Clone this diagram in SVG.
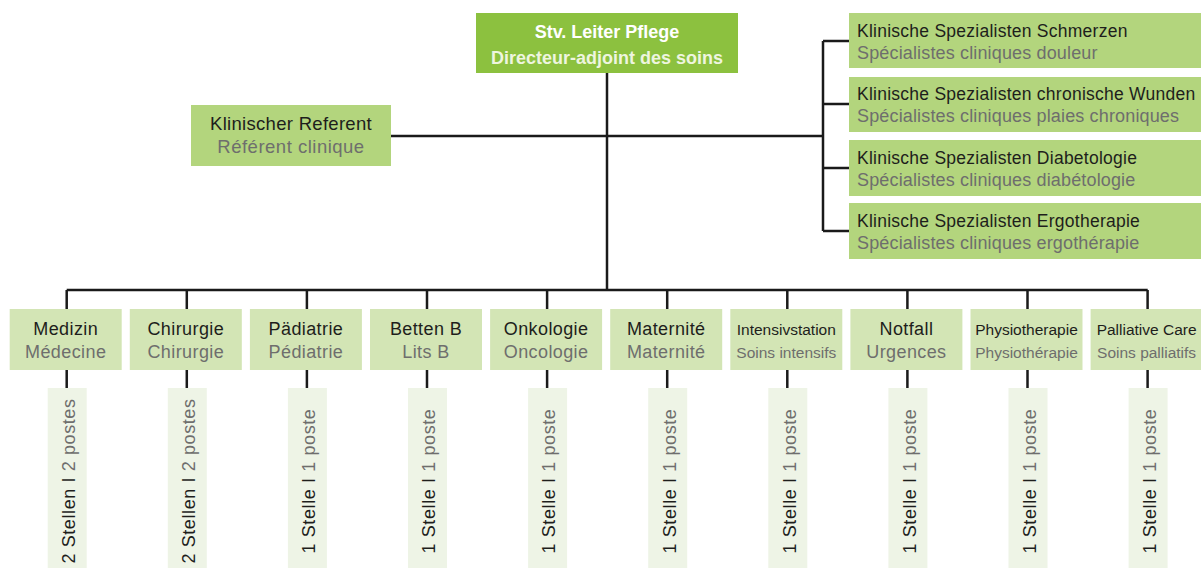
<svg xmlns="http://www.w3.org/2000/svg" width="1201" height="569" viewBox="0 0 1201 569">
<style>
text{font-family:"Liberation Sans",Arial,sans-serif}
.top{fill:#8cc13f}
.mid{fill:#b3d57d}
.dept{fill:#d3e5b5}
.pos{fill:#eef4e6}
.d{fill:#1e1e1c}
.g{fill:#6e6e6d}
.tw{fill:#ffffff;font-weight:bold;font-size:18px}
.tl{fill:#eef5df;font-weight:bold;font-size:18px}
.r1{font-size:17.5px;letter-spacing:0.25px}
.r2{font-size:18px;letter-spacing:0.15px}
.b{font-size:18px;letter-spacing:0.4px;text-anchor:middle}
.s{font-size:15.5px;text-anchor:middle}
.v{font-size:18px;letter-spacing:0.6px;text-anchor:middle}
.conn{stroke:#1a1a1a;stroke-width:2.5;fill:none}
</style>
<g id="connectors" class="conn">
<path d="M607 73V290"/>
<path d="M391 136H823"/>
<path d="M823 41V231M823 41H849M823 104H849M823 168H849M823 231H849"/>
<path d="M66.7 290H1147.7"/>
<path d="M66.7 290V309M186.8 290V309M306.9 290V309M427 290V309M547.1 290V309M667.2 290V309M787.3 290V309M907.4 290V309M1027.5 290V309M1147.6 290V309"/>
<path d="M66.7 370V388M186.8 370V388M306.9 370V388M427 370V388M547.1 370V388M667.2 370V388M787.3 370V388M907.4 370V388M1027.5 370V388M1147.6 370V388"/>
</g>
<g id="leiter">
<rect class="top" x="476" y="13" width="262" height="60"/>
<text class="tw" x="607" y="38" text-anchor="middle">Stv. Leiter Pflege</text>
<text class="tl" x="607" y="64" text-anchor="middle">Directeur-adjoint des soins</text>
</g>
<g id="referent">
<rect class="mid" x="191" y="105" width="200" height="61"/>
<text class="d" x="291" y="130" font-size="18.5" letter-spacing="0.3" text-anchor="middle">Klinischer Referent</text>
<text class="g" x="291" y="153" font-size="18.5" letter-spacing="0.5" text-anchor="middle">Référent clinique</text>
</g>
<g id="spec1">
<rect class="mid" x="849" y="13" width="352" height="55"/>
<text class="d r1" x="857" y="37">Klinische Spezialisten Schmerzen</text>
<text class="g r2" x="857" y="59">Spécialistes cliniques douleur</text>
</g>
<g id="spec2">
<rect class="mid" x="849" y="77" width="352" height="55"/>
<text class="d r1" x="857" y="100">Klinische Spezialisten chronische Wunden</text>
<text class="g r2" x="857" y="122">Spécialistes cliniques plaies chroniques</text>
</g>
<g id="spec3">
<rect class="mid" x="849" y="140" width="352" height="56"/>
<text class="d r1" x="857" y="164">Klinische Spezialisten Diabetologie</text>
<text class="g r2" x="857" y="186">Spécialistes cliniques diabétologie</text>
</g>
<g id="spec4">
<rect class="mid" x="849" y="203" width="352" height="56"/>
<text class="d r1" x="857" y="227">Klinische Spezialisten Ergotherapie</text>
<text class="g r2" x="857" y="249">Spécialistes cliniques ergothérapie</text>
</g>
<g id="medizin">
<rect class="dept" x="9.7" y="309" width="112" height="61"/>
<text class="d b" x="65.7" y="335">Medizin</text>
<text class="g b" x="65.7" y="358">Médecine</text>
</g>
<g id="chirurgie">
<rect class="dept" x="129.8" y="309" width="112" height="61"/>
<text class="d b" x="185.8" y="335">Chirurgie</text>
<text class="g b" x="185.8" y="358">Chirurgie</text>
</g>
<g id="paediatrie">
<rect class="dept" x="249.9" y="309" width="112" height="61"/>
<text class="d b" x="305.9" y="335">Pädiatrie</text>
<text class="g b" x="305.9" y="358">Pédiatrie</text>
</g>
<g id="betten">
<rect class="dept" x="370" y="309" width="112" height="61"/>
<text class="d b" x="426" y="335">Betten B</text>
<text class="g b" x="426" y="358">Lits B</text>
</g>
<g id="onkologie">
<rect class="dept" x="490.1" y="309" width="112" height="61"/>
<text class="d b" x="546.1" y="335">Onkologie</text>
<text class="g b" x="546.1" y="358">Oncologie</text>
</g>
<g id="maternite">
<rect class="dept" x="610.2" y="309" width="112" height="61"/>
<text class="d b" x="666.2" y="335">Maternité</text>
<text class="g b" x="666.2" y="358">Maternité</text>
</g>
<g id="intensiv">
<rect class="dept" x="730.3" y="309" width="112" height="61"/>
<text class="d s" x="786.3" y="335">Intensivstation</text>
<text class="g s" x="786.3" y="358">Soins intensifs</text>
</g>
<g id="notfall">
<rect class="dept" x="850.4" y="309" width="112" height="61"/>
<text class="d b" x="906.4" y="335">Notfall</text>
<text class="g b" x="906.4" y="358">Urgences</text>
</g>
<g id="physio">
<rect class="dept" x="970.5" y="309" width="112" height="61"/>
<text class="d s" x="1026.5" y="335">Physiotherapie</text>
<text class="g s" x="1026.5" y="358">Physiothérapie</text>
</g>
<g id="palliative">
<rect class="dept" x="1090.6" y="309" width="112" height="61"/>
<text class="d s" x="1146.6" y="335">Palliative Care</text>
<text class="g s" x="1146.6" y="358">Soins palliatifs</text>
</g>
<g id="pos-medizin">
<rect class="pos" x="47.7" y="388" width="39" height="180"/>
<text class="v" transform="translate(75 481) rotate(-90)"><tspan class="d">2 Stellen I </tspan><tspan class="g">2 postes</tspan></text>
</g>
<g id="pos-chirurgie">
<rect class="pos" x="167.8" y="388" width="39" height="180"/>
<text class="v" transform="translate(195.1 481) rotate(-90)"><tspan class="d">2 Stellen I </tspan><tspan class="g">2 postes</tspan></text>
</g>
<g id="pos-paediatrie">
<rect class="pos" x="287.9" y="388" width="39" height="180"/>
<text class="v" transform="translate(315.2 481) rotate(-90)"><tspan class="d">1 Stelle I </tspan><tspan class="g">1 poste</tspan></text>
</g>
<g id="pos-betten">
<rect class="pos" x="408" y="388" width="39" height="180"/>
<text class="v" transform="translate(435.3 481) rotate(-90)"><tspan class="d">1 Stelle I </tspan><tspan class="g">1 poste</tspan></text>
</g>
<g id="pos-onkologie">
<rect class="pos" x="528.1" y="388" width="39" height="180"/>
<text class="v" transform="translate(555.4 481) rotate(-90)"><tspan class="d">1 Stelle I </tspan><tspan class="g">1 poste</tspan></text>
</g>
<g id="pos-maternite">
<rect class="pos" x="648.2" y="388" width="39" height="180"/>
<text class="v" transform="translate(675.5 481) rotate(-90)"><tspan class="d">1 Stelle I </tspan><tspan class="g">1 poste</tspan></text>
</g>
<g id="pos-intensiv">
<rect class="pos" x="768.3" y="388" width="39" height="180"/>
<text class="v" transform="translate(795.6 481) rotate(-90)"><tspan class="d">1 Stelle I </tspan><tspan class="g">1 poste</tspan></text>
</g>
<g id="pos-notfall">
<rect class="pos" x="888.4" y="388" width="39" height="180"/>
<text class="v" transform="translate(915.7 481) rotate(-90)"><tspan class="d">1 Stelle I </tspan><tspan class="g">1 poste</tspan></text>
</g>
<g id="pos-physio">
<rect class="pos" x="1008.5" y="388" width="39" height="180"/>
<text class="v" transform="translate(1035.8 481) rotate(-90)"><tspan class="d">1 Stelle I </tspan><tspan class="g">1 poste</tspan></text>
</g>
<g id="pos-palliative">
<rect class="pos" x="1128.6" y="388" width="39" height="180"/>
<text class="v" transform="translate(1155.9 481) rotate(-90)"><tspan class="d">1 Stelle I </tspan><tspan class="g">1 poste</tspan></text>
</g>
</svg>
